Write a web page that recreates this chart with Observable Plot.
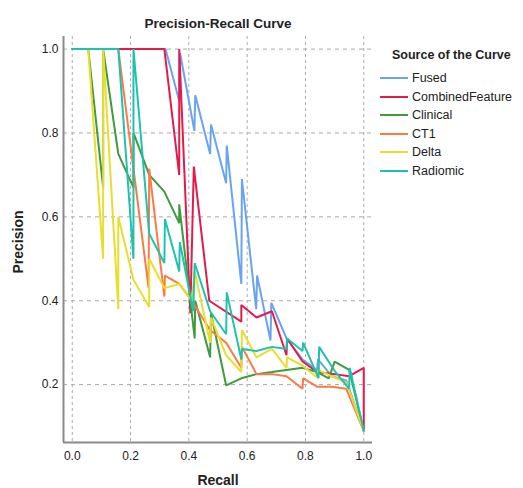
<!DOCTYPE html>
<html>
<head>
<meta charset="utf-8">
<script src="https://cdn.jsdelivr.net/npm/d3@7"></script>
<script src="https://cdn.jsdelivr.net/npm/@observablehq/plot@0.6"></script>
<style>
  html, body { margin: 0; padding: 0; background: #fff; }
  #wrap { position: relative; width: 523px; height: 488px; font-family: Arial, "Liberation Sans", sans-serif; color: #222; }
  #chart { position: absolute; left: 0; top: 0; }
  .ttl { position: absolute; font-weight: bold; white-space: nowrap; }
  #legend { position: absolute; left: 380px; top: 45px; font-size: 12.5px; }
  #legend .lt { font-weight: bold; margin-left: 12px; height: 20px; line-height: 20px; margin-bottom: 4px; }
  #legend .row { height: 18.5px; line-height: 18.5px; display: flex; align-items: center; }
  #legend svg { margin-right: 4px; }
</style>
</head>
<body>
<div id="wrap">
  <div id="chart"></div>
  <div class="ttl" style="left:0;width:436px;top:16px;text-align:center;font-size:13.5px;">Precision-Recall Curve</div>
  <div class="ttl" style="left:18px;top:242px;font-size:14px;transform:translate(-50%,-50%) rotate(-90deg);">Precision</div>
  <div class="ttl" style="left:0;width:436px;top:472px;text-align:center;font-size:14px;">Recall</div>
  <div id="legend"></div>
</div>
<script>
const recallTicks = [0, 0.2, 0.4, 0.6, 0.8, 1.0];
const precisionTicks = [0.2, 0.4, 0.6, 0.8, 1.0];

const seriesNames = ["Fused", "CombinedFeature", "Clinical", "CT1", "Delta", "Radiomic"];
const seriesColors = ["#6aa3ee", "#e31b4c", "#3f9b3c", "#fb7a47", "#e7df2c", "#1fc2ae"];

// [recall, precision]
const fused = [[0,1],[0.32,1],[0.367,0.876],[0.37,0.99],[0.419,0.805],[0.422,0.89],[0.473,0.75],[0.476,0.82],[0.528,0.68],[0.53,0.77],[0.58,0.44],[0.582,0.69],[0.631,0.38],[0.634,0.46],[0.68,0.305],[0.683,0.395],[0.735,0.31],[0.79,0.26],[0.84,0.235],[0.843,0.26],[0.89,0.22],[0.94,0.21],[1.0,0.09]];
const combinedFeature = [[0,1],[0.316,1],[0.367,0.70],[0.367,1.0],[0.405,0.37],[0.417,0.72],[0.47,0.40],[0.58,0.35],[0.58,0.39],[0.632,0.36],[0.685,0.375],[0.735,0.27],[0.737,0.31],[0.79,0.255],[0.84,0.23],[0.90,0.225],[0.95,0.22],[1.0,0.24],[1.0,0.09]];
const clinical = [[0,1],[0.055,1],[0.106,0.67],[0.106,1],[0.158,0.75],[0.21,0.67],[0.21,0.80],[0.264,0.70],[0.316,0.66],[0.367,0.585],[0.367,0.63],[0.42,0.31],[0.422,0.40],[0.473,0.265],[0.476,0.37],[0.528,0.198],[0.58,0.215],[0.632,0.225],[0.685,0.23],[0.735,0.235],[0.79,0.24],[0.84,0.23],[0.88,0.215],[0.90,0.255],[0.95,0.235],[1.0,0.09]];
const ct1 = [[0,1],[0.158,1],[0.262,0.43],[0.264,0.715],[0.316,0.41],[0.318,0.46],[0.367,0.44],[0.41,0.40],[0.473,0.33],[0.528,0.30],[0.58,0.24],[0.582,0.29],[0.632,0.225],[0.685,0.225],[0.735,0.22],[0.79,0.19],[0.792,0.215],[0.84,0.195],[0.89,0.195],[0.94,0.19],[1.0,0.09]];
const delta = [[0,1],[0.055,1],[0.106,0.50],[0.106,1],[0.158,0.38],[0.158,0.60],[0.21,0.45],[0.264,0.385],[0.264,0.50],[0.316,0.43],[0.367,0.44],[0.41,0.40],[0.42,0.47],[0.473,0.30],[0.476,0.36],[0.528,0.27],[0.58,0.23],[0.582,0.33],[0.632,0.265],[0.685,0.285],[0.735,0.24],[0.737,0.265],[0.79,0.245],[0.84,0.217],[0.843,0.235],[0.89,0.22],[0.94,0.205],[1.0,0.09]];
const radiomic = [[0,1],[0.158,1],[0.21,0.50],[0.21,1],[0.264,0.56],[0.316,0.49],[0.318,0.595],[0.367,0.47],[0.369,0.54],[0.415,0.375],[0.42,0.49],[0.473,0.375],[0.528,0.32],[0.53,0.42],[0.58,0.26],[0.582,0.285],[0.632,0.28],[0.685,0.29],[0.735,0.285],[0.737,0.31],[0.79,0.28],[0.792,0.30],[0.845,0.215],[0.847,0.29],[0.90,0.233],[0.95,0.19],[0.952,0.24],[1.0,0.09]];

const allSeries = [fused, combinedFeature, clinical, ct1, delta, radiomic];
const rows = allSeries.flatMap((pts, i) => pts.map(([r, p]) => ({source: seriesNames[i], recall: r, precision: p})));

const xDomain = [-0.03, 1.03];
const yDomain = [0.062, 1.03];

const chart = Plot.plot({
  width: 523,
  height: 488,
  marginLeft: 63,
  marginRight: 151,
  marginTop: 36,
  marginBottom: 46,
  style: {fontFamily: "Arial, 'Liberation Sans', sans-serif", fontSize: "12px", color: "#222", background: "#fff"},
  x: {domain: xDomain, ticks: recallTicks, tickFormat: d3.format(".1f"), label: null},
  y: {domain: yDomain, ticks: precisionTicks, tickFormat: d3.format(".1f"), label: null},
  color: {domain: seriesNames, range: seriesColors},
  marks: [
    Plot.gridX(recallTicks, {stroke: "#aaa", strokeOpacity: 1, strokeDasharray: "3,3"}),
    Plot.gridY(precisionTicks, {stroke: "#aaa", strokeOpacity: 1, strokeDasharray: "4,4"}),
    Plot.axisX(recallTicks, {tickSize: 0, tickPadding: 9, tickFormat: d3.format(".1f")}),
    Plot.axisY(precisionTicks, {tickSize: 0, tickPadding: 5, tickFormat: d3.format(".1f")}),
    Plot.line(rows, {x: "recall", y: "precision", z: "source", stroke: "source", strokeWidth: 2, strokeLinejoin: "miter"}),
    Plot.ruleX([xDomain[0]], {stroke: "#8a8a8a", strokeWidth: 2}),
    Plot.ruleY([yDomain[0]], {stroke: "#8a8a8a", strokeWidth: 2})
  ]
});
document.getElementById("chart").appendChild(chart);

const legend = document.getElementById("legend");
const lt = document.createElement("div");
lt.className = "lt";
lt.textContent = "Source of the Curve";
legend.appendChild(lt);
seriesNames.forEach((n, i) => {
  const row = document.createElement("div");
  row.className = "row";
  row.innerHTML = `<svg width="28" height="4"><line x1="0" y1="2" x2="28" y2="2" stroke="${seriesColors[i]}" stroke-width="2"/></svg><span>${n}</span>`;
  legend.appendChild(row);
});
</script>
</body>
</html>
